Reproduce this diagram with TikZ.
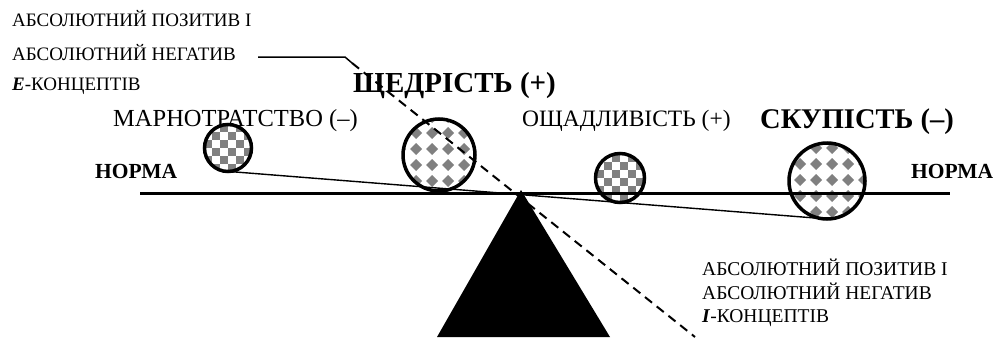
\documentclass[tikz,border=0pt]{standalone}
\usepackage{fontspec}
\setmainfont{Liberation Serif}
\definecolor{patgray}{RGB}{128,128,128}
\begin{document}
\newcommand\ckfill[3]{%
  \scope
    \clip (#1,#2) circle (#3);
    \foreach \i in {-4,...,3} {
      \pgfmathtruncatemacro\off{mod(\i+8,2)}
      \foreach \j in {-4,-2,...,2} {
        \fill[patgray] ({#1+8*\i},{#2+8*(\j+\off)}) rectangle ++(8,8);
      }
    }
  \endscope}
% #1,#2 centre, #3 radius, #4,#5 pattern offset
\newcommand\dmfill[5]{%
  \scope
    \clip (#1,#2) circle (#3);
    \foreach \i in {-3,...,3} {
      \foreach \j in {-3,...,3} {
        \fill[patgray] ({#1+#4+16*\i},{#2+#5+16*\j}) +(-6,0) -- +(0,-6) -- +(6,0) -- +(0,6) -- cycle;
      }
    }
  \endscope}
\begin{tikzpicture}[x=1pt,y=-1pt,
  ball/.style={draw, line width=3.5pt, circle, inner sep=0pt},
  lbl/.style={inner sep=0pt, anchor=base west},
  beam/.style={line width=3pt},
  lever/.style={line width=1.4pt},
  leader/.style={line width=1.5pt},
  dashline/.style={line width=2pt, dash pattern=on 9pt off 6pt}]
\useasboundingbox (0,0) rectangle (995,340);

% patterns inside the balls
\ckfill{228}{148}{23.5}
\dmfill{439}{155}{36}{9}{10}
\ckfill{620}{178}{24.5}
\dmfill{827}{181}{38}{5}{-1}

% balls
\node[ball, minimum size=47pt] (b1) at (228,148) {};
\node[ball, minimum size=72pt] (b2) at (439,155) {};
\node[ball, minimum size=49pt] (b3) at (620,178) {};
\node[ball, minimum size=76pt] (b4) at (827,181) {};

% horizontal norm line
\coordinate (hl) at (140,193);
\coordinate (hr) at (950,193);
\draw[beam] (hl) -- (hr);

% tilted lever
\coordinate (tl) at (223,171);
\coordinate (tr) at (815,218);
\draw[lever] (tl) -- (tr);

% fulcrum
\coordinate (apex) at (521,190);
\coordinate (bl) at (437,337);
\coordinate (br) at (610,337);
\fill (apex) -- (bl) -- (br) -- cycle;

% labels
\node[lbl, font=\fontsize{19}{19}\selectfont] (e1) at (12,27) {АБСОЛЮТНИЙ ПОЗИТИВ І};
\node[lbl, font=\fontsize{19}{19}\selectfont] (e2) at (12,60) {АБСОЛЮТНИЙ НЕГАТИВ};
\node[lbl, font=\fontsize{19}{19}\selectfont] (e3) at (12,90) {\textbf{\textit{E}}-КОНЦЕПТІВ};

\node[lbl, font=\fontsize{29}{29}\selectfont\bfseries] (shch) at (353,92) {ЩЕДРІСТЬ (+)};
\node[lbl, font=\fontsize{24.5}{24.5}\selectfont] (marn) at (113,126) {МАРНОТРАТСТВО (–)};
\node[lbl, font=\fontsize{23.5}{23.5}\selectfont] (osch) at (522,126) {ОЩАДЛИВІСТЬ (+)};
\node[lbl, font=\fontsize{28.5}{28.5}\selectfont\bfseries] (skup) at (760,128) {СКУПІСТЬ (–)};

\node[lbl, font=\fontsize{21.5}{21.5}\selectfont\bfseries] (n1) at (95,178) {НОРМА};
\node[lbl, font=\fontsize{21.5}{21.5}\selectfont\bfseries] (n2) at (911,178) {НОРМА};

\node[lbl, font=\fontsize{19.5}{19.5}\selectfont] (i1) at (702,275) {АБСОЛЮТНИЙ ПОЗИТИВ І};
\node[lbl, font=\fontsize{19.5}{19.5}\selectfont] (i2) at (702,299) {АБСОЛЮТНИЙ НЕГАТИВ};
\node[lbl, font=\fontsize{19.5}{19.5}\selectfont] (i3) at (702,322) {\textbf{\textit{I}}-КОНЦЕПТІВ};

% leader and dashed line
\coordinate (la) at (258,57);
\coordinate (lb) at (345,57);
\coordinate (lc) at (352,63);
\coordinate (ld) at (695,337);
\draw[leader] (la) -- (lb) -- (lc);
\draw[dashline] (lc) -- (ld);
\end{tikzpicture}
\end{document}
